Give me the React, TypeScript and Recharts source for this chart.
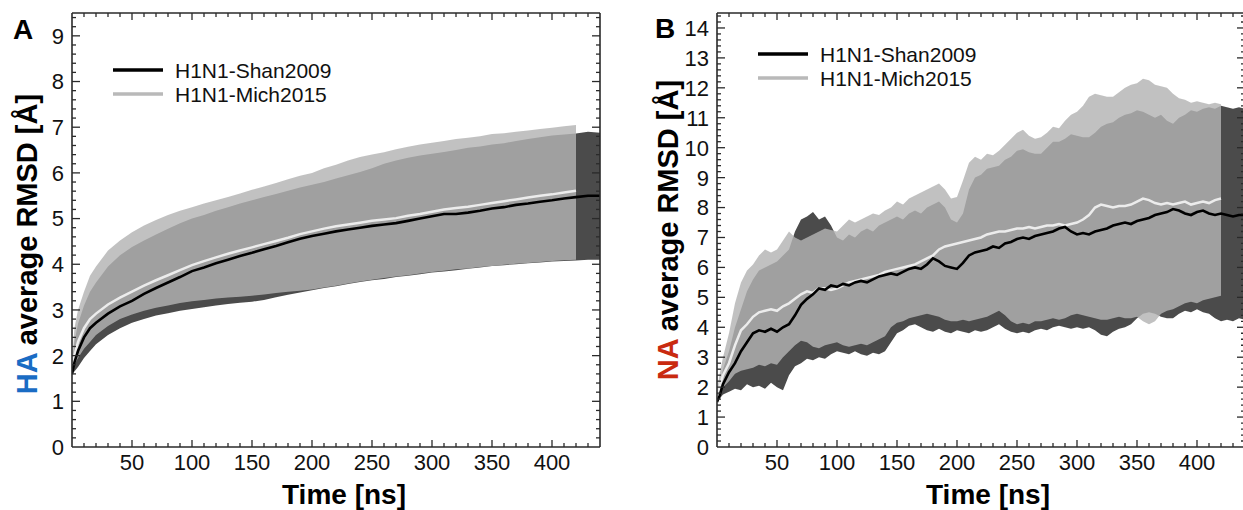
import React from 'react';
import { ComposedChart, Area, Line, XAxis, YAxis } from 'recharts';

// ---------- Panel A (HA) ----------
const timeA = [0, 2, 5, 10, 15, 20, 30, 40, 50, 60, 70, 80, 90, 100, 110, 120, 130, 140, 150, 160, 170, 180, 190, 200, 210, 220, 230, 240, 250, 260, 270, 280, 290, 300, 310, 320, 330, 340, 350, 360, 370, 380, 390, 400, 410, 420, 430, 440];
const shanMeanA = [1.6, 1.85, 2.1, 2.4, 2.6, 2.72, 2.92, 3.08, 3.2, 3.35, 3.48, 3.6, 3.72, 3.85, 3.93, 4.02, 4.1, 4.18, 4.25, 4.33, 4.4, 4.48, 4.56, 4.62, 4.67, 4.72, 4.76, 4.8, 4.84, 4.87, 4.9, 4.95, 5.0, 5.05, 5.1, 5.1, 5.13, 5.17, 5.22, 5.25, 5.3, 5.33, 5.37, 5.4, 5.44, 5.47, 5.5, 5.5];
const shanLowA = [1.6, 1.65, 1.75, 1.95, 2.1, 2.25, 2.45, 2.6, 2.72, 2.8, 2.88, 2.93, 2.98, 3.02, 3.06, 3.1, 3.13, 3.16, 3.18, 3.22, 3.28, 3.33, 3.38, 3.43, 3.48, 3.52, 3.57, 3.61, 3.65, 3.68, 3.72, 3.75, 3.78, 3.82, 3.84, 3.87, 3.9, 3.93, 3.96, 3.98, 4.0, 4.02, 4.04, 4.06, 4.07, 4.08, 4.1, 4.1];
const shanHighA = [1.7, 2.3, 2.7, 3.1, 3.4, 3.6, 3.95, 4.2, 4.38, 4.52, 4.65, 4.78, 4.9, 5.0, 5.08, 5.17, 5.25, 5.33, 5.4, 5.47, 5.54, 5.61, 5.68, 5.74, 5.8, 5.88, 5.95, 6.02, 6.1, 6.2, 6.27, 6.33, 6.38, 6.42, 6.46, 6.5, 6.55, 6.58, 6.62, 6.65, 6.7, 6.74, 6.78, 6.82, 6.84, 6.86, 6.9, 6.88];
const michMeanA = [1.7, 2.0, 2.3, 2.6, 2.8, 2.92, 3.12, 3.27, 3.4, 3.53, 3.65, 3.76, 3.87, 3.98, 4.07, 4.15, 4.23, 4.3, 4.37, 4.44, 4.51, 4.58, 4.66, 4.72, 4.78, 4.83, 4.87, 4.91, 4.95, 4.98, 5.01, 5.06, 5.1, 5.15, 5.2, 5.23, 5.26, 5.3, 5.34, 5.38, 5.42, 5.46, 5.5, 5.53, 5.57, 5.61];
const michLowA = [1.7, 1.8, 1.95, 2.15, 2.3, 2.45, 2.65, 2.8, 2.9, 2.98, 3.05, 3.1, 3.15, 3.19, 3.22, 3.25, 3.27, 3.29, 3.31, 3.34, 3.37, 3.4, 3.42, 3.45, 3.49, 3.53, 3.58, 3.62, 3.66, 3.7, 3.73, 3.76, 3.8, 3.83, 3.86, 3.89, 3.91, 3.94, 3.96, 3.99, 4.01, 4.03, 4.05, 4.07, 4.09, 4.1];
const michHighA = [1.8, 2.6, 3.0, 3.4, 3.75, 3.95, 4.3, 4.52, 4.7, 4.85, 4.97, 5.08, 5.17, 5.25, 5.33, 5.4, 5.47, 5.55, 5.63, 5.7, 5.78, 5.86, 5.94, 6.0, 6.1, 6.18, 6.27, 6.35, 6.4, 6.45, 6.52, 6.57, 6.62, 6.66, 6.7, 6.74, 6.77, 6.8, 6.85, 6.87, 6.9, 6.93, 6.96, 6.99, 7.02, 7.05];

// ---------- Panel B (NA) ----------
const timeB = [0, 2, 5, 10, 15, 20, 25, 30, 35, 40, 45, 50, 55, 60, 65, 70, 75, 80, 85, 90, 95, 100, 105, 110, 115, 120, 125, 130, 135, 140, 145, 150, 155, 160, 165, 170, 175, 180, 185, 190, 195, 200, 205, 210, 215, 220, 225, 230, 235, 240, 245, 250, 255, 260, 265, 270, 275, 280, 285, 290, 295, 300, 305, 310, 315, 320, 325, 330, 335, 340, 345, 350, 355, 360, 365, 370, 375, 380, 385, 390, 395, 400, 405, 410, 415, 420, 425, 430, 435, 440];
const shanMeanB = [1.5, 1.7, 2.1, 2.5, 2.8, 3.2, 3.5, 3.8, 3.9, 3.85, 3.95, 3.85, 4.0, 4.1, 4.4, 4.75, 4.95, 5.1, 5.3, 5.25, 5.4, 5.35, 5.45, 5.4, 5.5, 5.55, 5.5, 5.6, 5.7, 5.75, 5.8, 5.75, 5.85, 5.95, 6.0, 5.95, 6.1, 6.3, 6.2, 6.05, 6.0, 5.95, 6.15, 6.4, 6.5, 6.55, 6.6, 6.7, 6.65, 6.8, 6.85, 6.95, 7.0, 6.95, 7.05, 7.1, 7.15, 7.2, 7.3, 7.35, 7.2, 7.1, 7.15, 7.1, 7.2, 7.25, 7.3, 7.4, 7.45, 7.5, 7.45, 7.55, 7.6, 7.65, 7.75, 7.8, 7.85, 7.95, 7.9, 7.8, 7.75, 7.85, 7.9, 7.8, 7.75, 7.8, 7.75, 7.7, 7.75, 7.75];
const shanLowB = [1.5, 1.6, 1.75, 1.85, 1.95, 1.9, 2.1, 2.0, 2.05, 1.95, 2.15, 2.0, 1.9, 2.4, 2.7, 2.8, 2.95, 2.9, 3.0, 2.95, 3.1, 3.2, 3.15, 3.1, 3.2, 3.1, 3.05, 3.15, 3.1, 3.2, 3.5, 3.8, 3.9, 4.05, 4.1, 4.0, 3.9, 3.85, 3.95, 3.85, 3.8, 3.9, 3.85, 3.8, 3.9, 3.85, 3.9, 4.0, 4.1, 3.95, 3.85, 3.8, 3.85, 3.8, 3.9, 3.95, 3.9, 4.0, 4.05, 4.0, 3.95, 4.0, 3.95, 4.0, 3.9, 3.75, 3.7, 3.85, 3.95, 4.0, 4.1, 4.3, 4.45, 4.5, 4.45, 4.35, 4.3, 4.3, 4.45, 4.55, 4.5, 4.6, 4.5, 4.45, 4.3, 4.2, 4.25, 4.2, 4.3, 4.25];
const shanHighB = [1.6, 2.0, 2.6, 3.2, 4.0, 4.6, 5.2, 5.6, 5.9, 6.0, 6.1, 6.2, 6.4, 6.6, 7.2, 7.6, 7.7, 7.85, 7.6, 7.7, 7.4, 7.0, 6.9, 7.1, 7.0, 7.2, 7.3, 7.2, 7.4, 7.5, 7.6, 7.7, 7.6, 7.8, 7.9, 7.8, 8.0, 8.1, 8.2, 8.0, 7.6, 7.5, 7.8, 8.6, 9.0, 9.1, 9.3, 9.35, 9.4, 9.6, 9.7, 9.9, 9.95, 9.85, 9.8, 9.8, 10.0, 10.2, 10.2, 10.3, 10.45, 10.4, 10.35, 10.35, 10.5, 10.7, 10.8, 10.85, 11.0, 11.1, 11.15, 11.25, 11.2, 11.1, 11.0, 11.1, 10.9, 10.8, 11.0, 11.1, 11.25, 11.2, 11.3, 11.35, 11.3, 11.4, 11.35, 11.3, 11.35, 11.3];
const michMeanB = [1.6, 2.0, 2.4, 2.8, 3.4, 3.9, 4.1, 4.35, 4.5, 4.55, 4.6, 4.55, 4.7, 4.8, 4.95, 5.1, 5.2, 5.15, 5.3, 5.3, 5.25, 5.3, 5.4, 5.5, 5.55, 5.6, 5.65, 5.7, 5.75, 5.85, 5.9, 5.95, 6.0, 6.05, 6.1, 6.2, 6.3, 6.4, 6.6, 6.7, 6.75, 6.8, 6.85, 6.9, 6.95, 7.0, 7.1, 7.15, 7.2, 7.2, 7.25, 7.3, 7.3, 7.35, 7.3, 7.35, 7.4, 7.4, 7.45, 7.4, 7.45, 7.5, 7.6, 7.75, 8.0, 8.1, 8.05, 8.0, 8.05, 8.05, 8.1, 8.2, 8.3, 8.25, 8.15, 8.1, 8.15, 8.1, 8.15, 8.2, 8.1, 8.15, 8.2, 8.15, 8.25, 8.3];
const michLowB = [1.6, 1.8, 2.0, 2.2, 2.45, 2.55, 2.6, 2.65, 2.75, 2.7, 2.8, 2.75, 3.0, 3.2, 3.4, 3.55, 3.5, 3.35, 3.3, 3.4, 3.45, 3.5, 3.4, 3.35, 3.4, 3.45, 3.4, 3.5, 3.6, 3.7, 4.0, 4.15, 4.2, 4.3, 4.35, 4.4, 4.45, 4.4, 4.35, 4.25, 4.2, 4.2, 4.25, 4.2, 4.25, 4.3, 4.35, 4.45, 4.55, 4.4, 4.2, 4.1, 4.15, 4.1, 4.2, 4.2, 4.25, 4.3, 4.25, 4.3, 4.4, 4.45, 4.4, 4.35, 4.3, 4.25, 4.25, 4.3, 4.35, 4.3, 4.3, 4.35, 4.2, 4.1, 4.2, 4.45, 4.55, 4.6, 4.7, 4.8, 4.85, 4.8, 4.9, 4.95, 5.0, 5.05];
const michHighB = [1.8, 2.4, 3.0, 3.8, 4.8, 5.5, 5.9, 6.1, 6.4, 6.6, 6.5, 6.6, 6.9, 7.2, 7.0, 6.9, 7.0, 7.1, 7.2, 7.3, 7.25, 7.2, 7.4, 7.6, 7.5, 7.6, 7.7, 7.8, 7.75, 7.9, 8.0, 8.2, 8.1, 8.3, 8.4, 8.5, 8.6, 8.7, 8.8, 8.6, 8.3, 8.35, 8.9, 9.5, 9.7, 9.6, 9.8, 9.75, 9.9, 10.1, 10.3, 10.5, 10.6, 10.4, 10.3, 10.35, 10.5, 10.7, 10.65, 10.9, 11.1, 11.2, 11.4, 11.7, 11.8, 11.75, 11.7, 11.7, 11.85, 12.0, 12.1, 12.15, 12.3, 12.25, 12.1, 12.05, 12.0, 11.8, 11.65, 11.6, 11.5, 11.55, 11.5, 11.45, 11.5, 11.45];

// ---------- Labels / ticks ----------
const seriesNames = ['H1N1-Shan2009', 'H1N1-Mich2015'];
const seriesLegendColors = ['#000000', '#b9b9b9'];
const xTickLabels = [50, 100, 150, 200, 250, 300, 350, 400];
const yTickLabelsA = [0, 1, 2, 3, 4, 5, 6, 7, 8, 9];
const yTickLabelsB = [0, 1, 2, 3, 4, 5, 6, 7, 8, 9, 10, 11, 12, 13, 14];
const panelLetters = ['A', 'B'];
const proteinNames = ['HA', 'NA'];
const proteinColors = ['#1a6cc4', '#c92a10'];
const yTitleRest = ' average RMSD [Å]';
const xTitle = 'Time [ns]';

const FONT = '"Liberation Sans", Arial, Helvetica, sans-serif';
const AXIS = '#2a2a2a';

const xTickPositions: number[] = [];
for (let k = 1; k <= 43; k++) xTickPositions.push(k * 10);
const makeYTicks = (max: number) => {
  const out: number[] = [];
  for (let k = 0; k / 5 < max; k++) out.push(k / 5);
  return out;
};

const isWhole = (v: number) => Math.abs(v - Math.round(v)) < 1e-6;

function buildRows(times: number[], sm: number[], sl: number[], sh: number[], mm: number[], ml: number[], mh: number[]) {
  return times.map((t, i) => ({
    t,
    shanBand: [sl[i], sh[i]],
    michBand: i < mm.length ? [ml[i], mh[i]] : null,
    shanMean: sm[i],
    michMean: i < mm.length ? mm[i] : null,
  }));
}

const rowsA = buildRows(timeA, shanMeanA, shanLowA, shanHighA, michMeanA, michLowA, michHighA);
const rowsB = buildRows(timeB, shanMeanB, shanLowB, shanHighB, michMeanB, michLowB, michHighB);

const BottomTick = (props: any) => {
  const { x, y, payload } = props;
  const v = payload.value;
  const major = v % 50 === 0;
  return (
    <g>
      <line x1={x} x2={x} y1={y} y2={y - (major ? 7 : 4)} stroke={AXIS} strokeWidth={1.3} />
      {major && xTickLabels.includes(v) ? (
        <text x={x} y={y + 23} textAnchor="middle" fontSize={22} fill="#111" fontFamily={FONT}>{v}</text>
      ) : null}
    </g>
  );
};
const TopTick = (props: any) => {
  const { x, y, payload } = props;
  const major = payload.value % 50 === 0;
  return <line x1={x} x2={x} y1={y} y2={y + (major ? 7 : 4)} stroke={AXIS} strokeWidth={1.3} />;
};
const makeLeftTick = (labels: number[]) => (props: any) => {
  const { x, y, payload } = props;
  const v = payload.value;
  const major = isWhole(v);
  const showLine = v > 1e-6;
  return (
    <g>
      {showLine ? <line x1={x} x2={x + (major ? 8 : 4)} y1={y} y2={y} stroke={AXIS} strokeWidth={1.3} /> : null}
      {major && labels.includes(Math.round(v)) ? (
        <text x={x - 8} y={y} dy="0.36em" textAnchor="end" fontSize={22} fill="#111" fontFamily={FONT}>{Math.round(v)}</text>
      ) : null}
    </g>
  );
};
const RightTick = (props: any) => {
  const { x, y, payload } = props;
  const major = isWhole(payload.value);
  if (payload.value < 1e-6) return <g />;
  return <line x1={x} x2={x - (major ? 8 : 4)} y1={y} y2={y} stroke={AXIS} strokeWidth={1.3} />;
};

type PanelProps = { rows: any[]; yMax: number; yLabels: number[]; width: number; margin: any };

function Panel({ rows, yMax, yLabels, width, margin }: PanelProps) {
  const yTicks = makeYTicks(yMax);
  const LeftTick = makeLeftTick(yLabels);
  const axisLine = { stroke: AXIS, strokeWidth: 1.6 };
  return (
    <ComposedChart width={width} height={510} data={rows} margin={margin}>
      <XAxis dataKey="t" type="number" domain={[0, 440]} allowDataOverflow ticks={xTickPositions} interval={0}
        height={1} tickSize={0} tickMargin={0} tickLine={false} axisLine={axisLine} tick={<BottomTick />} />
      <XAxis xAxisId="top" orientation="top" dataKey="t" type="number" domain={[0, 440]} allowDataOverflow ticks={xTickPositions} interval={0}
        height={1} tickSize={0} tickMargin={0} tickLine={false} axisLine={axisLine} tick={<TopTick />} />
      <YAxis type="number" domain={[0, yMax]} allowDataOverflow ticks={yTicks} interval={0}
        width={1} tickSize={0} tickMargin={0} tickLine={false} axisLine={axisLine} tick={<LeftTick />} />
      <YAxis yAxisId="right" orientation="right" type="number" domain={[0, yMax]} allowDataOverflow ticks={yTicks} interval={0}
        width={1} tickSize={0} tickMargin={0} tickLine={false} axisLine={axisLine} tick={<RightTick />} />
      <Area type="linear" dataKey="shanBand" fill="#4b4b4b" fillOpacity={1} stroke="none" isAnimationActive={false} dot={false} activeDot={false} />
      <Area type="linear" dataKey="michBand" fill="#b3b3b3" fillOpacity={0.82} stroke="none" isAnimationActive={false} dot={false} activeDot={false} />
      <Line type="linear" dataKey="michMean" stroke="#ececec" strokeWidth={2.5} dot={false} activeDot={false} isAnimationActive={false} />
      <Line type="linear" dataKey="shanMean" stroke="#000000" strokeWidth={2.6} dot={false} activeDot={false} isAnimationActive={false} />
    </ComposedChart>
  );
}

function LegendBlock({ x, y }: { x: number; y: number }) {
  return (
    <g>
      {seriesNames.map((name, i) => (
        <g key={name}>
          <line x1={x} x2={x + 50} y1={y + i * 24} y2={y + i * 24} stroke={seriesLegendColors[i]} strokeWidth={3.5} />
          <text x={x + 62} y={y + i * 24} dy="0.36em" fontSize={21} fill="#111" fontFamily={FONT}>{name}</text>
        </g>
      ))}
    </g>
  );
}

export default function App() {
  return (
    <div style={{ position: 'absolute', left: 0, top: 0, width: 1243, height: 510, overflow: 'hidden', background: '#fff' }}>
      <div style={{ position: 'absolute', left: 0, top: 0 }}>
        <Panel rows={rowsA} yMax={9.5} yLabels={yTickLabelsA} width={620} margin={{ top: 12, right: 19, bottom: 62, left: 71 }} />
      </div>
      <div style={{ position: 'absolute', left: 620, top: 0 }}>
        <Panel rows={rowsB} yMax={14.5} yLabels={yTickLabelsB} width={640} margin={{ top: 12, right: 14, bottom: 62, left: 96 }} />
      </div>
      <svg width={1243} height={510} style={{ position: 'absolute', left: 0, top: 0, pointerEvents: 'none' }}>
        <text x={13} y={39} fontSize={28} fontWeight="bold" fontFamily={FONT} fill="#000">{panelLetters[0]}</text>
        <text x={655} y={38} fontSize={28} fontWeight="bold" fontFamily={FONT} fill="#000">{panelLetters[1]}</text>
        <text x={37} y={244} transform="rotate(-90 37 244)" textAnchor="middle" fontSize={29} fontWeight="bold" fontFamily={FONT}>
          <tspan fill={proteinColors[0]}>{proteinNames[0]}</tspan>
          <tspan fill="#000">{yTitleRest}</tspan>
        </text>
        <text x={678} y={230} transform="rotate(-90 678 230)" textAnchor="middle" fontSize={29} fontWeight="bold" fontFamily={FONT}>
          <tspan fill={proteinColors[1]}>{proteinNames[1]}</tspan>
          <tspan fill="#000">{yTitleRest}</tspan>
        </text>
        <text x={344} y={504} textAnchor="middle" fontSize={28} fontWeight="bold" fontFamily={FONT} fill="#000">{xTitle}</text>
        <text x={988} y={504} textAnchor="middle" fontSize={28} fontWeight="bold" fontFamily={FONT} fill="#000">{xTitle}</text>
        <LegendBlock x={113} y={70} />
        <LegendBlock x={758} y={54} />
      </svg>
    </div>
  );
}
